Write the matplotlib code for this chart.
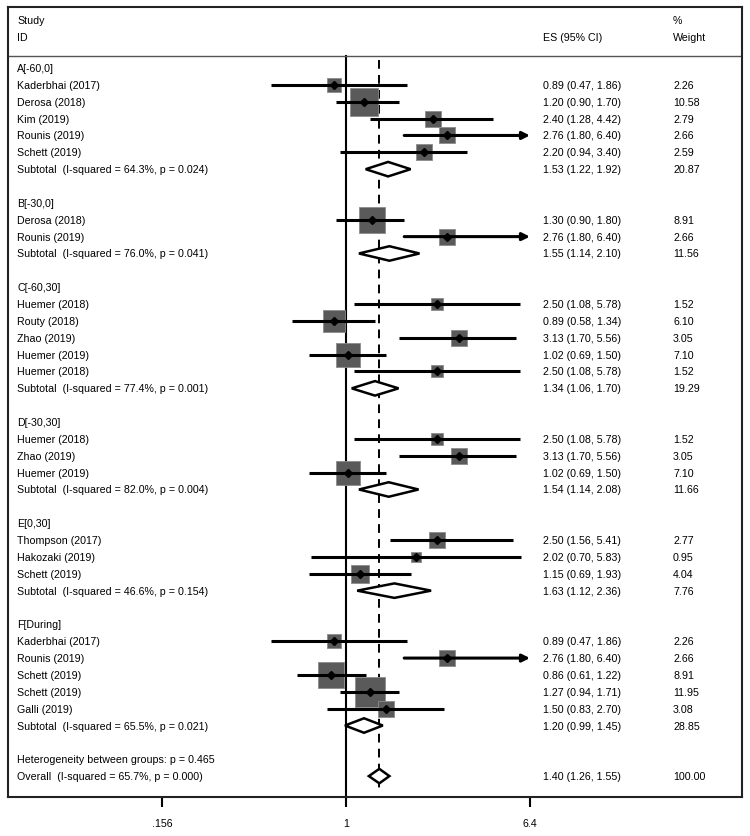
import matplotlib.pyplot as plt
import matplotlib.transforms as mtransforms
from matplotlib.patches import Polygon
import numpy as np

plt.rcParams['font.family'] = ['Liberation Sans', 'DejaVu Sans']

# subgroup headings
group_labels = ['A[-60,0]', 'B[-30,0]', 'C[-60,30]', 'D[-30,30]', 'E[0,30]', 'F[During]']

# individual studies (group index, name, ES, lower, upper, % weight)
study_group = [0, 0, 0, 0, 0,
               1, 1,
               2, 2, 2, 2, 2,
               3, 3, 3,
               4, 4, 4,
               5, 5, 5, 5, 5]
study_names = ['Kaderbhai (2017)', 'Derosa (2018)', 'Kim (2019)', 'Rounis (2019)', 'Schett (2019)',
               'Derosa (2018)', 'Rounis (2019)',
               'Huemer (2018)', 'Routy (2018)', 'Zhao (2019)', 'Huemer (2019)', 'Huemer (2018)',
               'Huemer (2018)', 'Zhao (2019)', 'Huemer (2019)',
               'Thompson (2017)', 'Hakozaki (2019)', 'Schett (2019)',
               'Kaderbhai (2017)', 'Rounis (2019)', 'Schett (2019)', 'Schett (2019)', 'Galli (2019)']
study_es = [0.89, 1.20, 2.40, 2.76, 2.20,
            1.30, 2.76,
            2.50, 0.89, 3.13, 1.02, 2.50,
            2.50, 3.13, 1.02,
            2.50, 2.02, 1.15,
            0.89, 2.76, 0.86, 1.27, 1.50]
study_lo = [0.47, 0.90, 1.28, 1.80, 0.94,
            0.90, 1.80,
            1.08, 0.58, 1.70, 0.69, 1.08,
            1.08, 1.70, 0.69,
            1.56, 0.70, 0.69,
            0.47, 1.80, 0.61, 0.94, 0.83]
study_hi = [1.86, 1.70, 4.42, 6.40, 3.40,
            1.80, 6.40,
            5.78, 1.34, 5.56, 1.50, 5.78,
            5.78, 5.56, 1.50,
            5.41, 5.83, 1.93,
            1.86, 6.40, 1.22, 1.71, 2.70]
study_wt = [2.26, 10.58, 2.79, 2.66, 2.59,
            8.91, 2.66,
            1.52, 6.10, 3.05, 7.10, 1.52,
            1.52, 3.05, 7.10,
            2.77, 0.95, 4.04,
            2.26, 2.66, 8.91, 11.95, 3.08]

# subgroup pooled estimates
sub_es = [1.53, 1.55, 1.34, 1.54, 1.63, 1.20]
sub_lo = [1.22, 1.14, 1.06, 1.14, 1.12, 0.99]
sub_hi = [1.92, 2.10, 1.70, 2.08, 2.36, 1.45]
sub_wt = [20.87, 11.56, 19.29, 11.66, 7.76, 28.85]
sub_i2 = [64.3, 76.0, 77.4, 82.0, 46.6, 65.5]
sub_p = [0.024, 0.041, 0.001, 0.004, 0.154, 0.021]

het_p = 0.465
overall = dict(es=1.40, lo=1.26, hi=1.55, wt=100.00, i2=65.7, p=0.000)

x_ticks = [0.156, 1, 6.4]
x_ticklabels = ['.156', '1', '6.4']

fig = plt.figure(figsize=(7.5, 8.37), dpi=100)
ax = fig.add_axes([8/750, 39/837, 734/750, 790/837])
ax.set_xscale('log')
ax.set_xlim(np.exp(-3.41), np.exp(3.996))
ax.set_ylim(43.24, -3.62)

trans = mtransforms.blended_transform_factory(ax.transAxes, ax.transData)
fs = 7.7
x_txt, x_es, x_wt = 0.0123, 0.729, 0.906
x_max = x_ticks[-1]

# header
ax.text(x_txt, -2.85, 'Study', transform=trans, va='center', fontsize=fs)
ax.text(x_txt, -1.84, 'ID', transform=trans, va='center', fontsize=fs)
ax.text(x_es, -1.84, 'ES (95% CI)', transform=trans, va='center', fontsize=fs)
ax.text(x_wt, -2.85, '%', transform=trans, va='center', fontsize=fs)
ax.text(x_wt, -1.84, 'Weight', transform=trans, va='center', fontsize=fs)
ax.axhline(-0.71, color='#555555', lw=1.0)

# reference lines
ax.plot([1, 1], [-0.71, 43.24], color='black', lw=1.5, zorder=1)
ax.plot([overall['es']] * 2, [-0.45, 42.9], color='black', lw=1.4,
        dashes=(4.5, 3.2), zorder=1)


def draw_diamond(es, lo, hi, r):
    h = 0.43
    ax.add_patch(Polygon([(lo, r), (es, r - h), (hi, r), (es, r + h)],
                         closed=True, facecolor='white', edgecolor='black',
                         lw=1.8, zorder=4))


def side_pt(w):
    return (2.1 + 8.06 * np.sqrt(w)) * 0.72


row = 0
for g, glabel in enumerate(group_labels):
    ax.text(x_txt, row, glabel, transform=trans, va='center', fontsize=fs)
    row += 1
    for i in [k for k, gg in enumerate(study_group) if gg == g]:
        es, lo, hi, w = study_es[i], study_lo[i], study_hi[i], study_wt[i]
        ax.scatter([es], [row], marker='s', s=side_pt(w) ** 2,
                   facecolor='#5a5a5a', edgecolor='#8c8c8c', lw=0.6, zorder=2)
        if hi >= x_max:
            ax.annotate('', xy=(x_max, row), xytext=(lo, row),
                        arrowprops=dict(arrowstyle='-|>', lw=2.2, color='black',
                                        mutation_scale=11, shrinkA=0, shrinkB=0),
                        zorder=3)
        else:
            ax.plot([lo, hi], [row, row], color='black', lw=2.2,
                    solid_capstyle='butt', zorder=3)
        ax.plot([es], [row], marker='D', ms=4.0, color='black', zorder=5)
        ax.text(x_txt, row, study_names[i], transform=trans, va='center', fontsize=fs)
        ax.text(x_es, row, f'{es:.2f} ({lo:.2f}, {hi:.2f})', transform=trans,
                va='center', fontsize=fs)
        ax.text(x_wt, row, f'{w:.2f}', transform=trans, va='center', fontsize=fs)
        row += 1
    draw_diamond(sub_es[g], sub_lo[g], sub_hi[g], row)
    ax.text(x_txt, row, f'Subtotal  (I-squared = {sub_i2[g]:.1f}%, p = {sub_p[g]:.3f})',
            transform=trans, va='center', fontsize=fs)
    ax.text(x_es, row, f'{sub_es[g]:.2f} ({sub_lo[g]:.2f}, {sub_hi[g]:.2f})',
            transform=trans, va='center', fontsize=fs)
    ax.text(x_wt, row, f'{sub_wt[g]:.2f}', transform=trans, va='center', fontsize=fs)
    row += 2

ax.text(x_txt, row, f'Heterogeneity between groups: p = {het_p:.3f}',
        transform=trans, va='center', fontsize=fs)
row += 1
draw_diamond(overall['es'], overall['lo'], overall['hi'], row)
ax.text(x_txt, row, f"Overall  (I-squared = {overall['i2']:.1f}%, p = {overall['p']:.3f})",
        transform=trans, va='center', fontsize=fs)
ax.text(x_es, row, f"{overall['es']:.2f} ({overall['lo']:.2f}, {overall['hi']:.2f})",
        transform=trans, va='center', fontsize=fs)
ax.text(x_wt, row, f"{overall['wt']:.2f}", transform=trans, va='center', fontsize=fs)

# axes
ax.set_xticks(x_ticks)
ax.set_xticklabels(x_ticklabels, fontsize=fs)
ax.minorticks_off()
ax.tick_params(axis='x', length=7, width=1.5, pad=8)
ax.set_yticks([])
for s in ax.spines.values():
    s.set_linewidth(1.5)
    s.set_color('#222222')

fig.savefig('out.png', dpi=100)
